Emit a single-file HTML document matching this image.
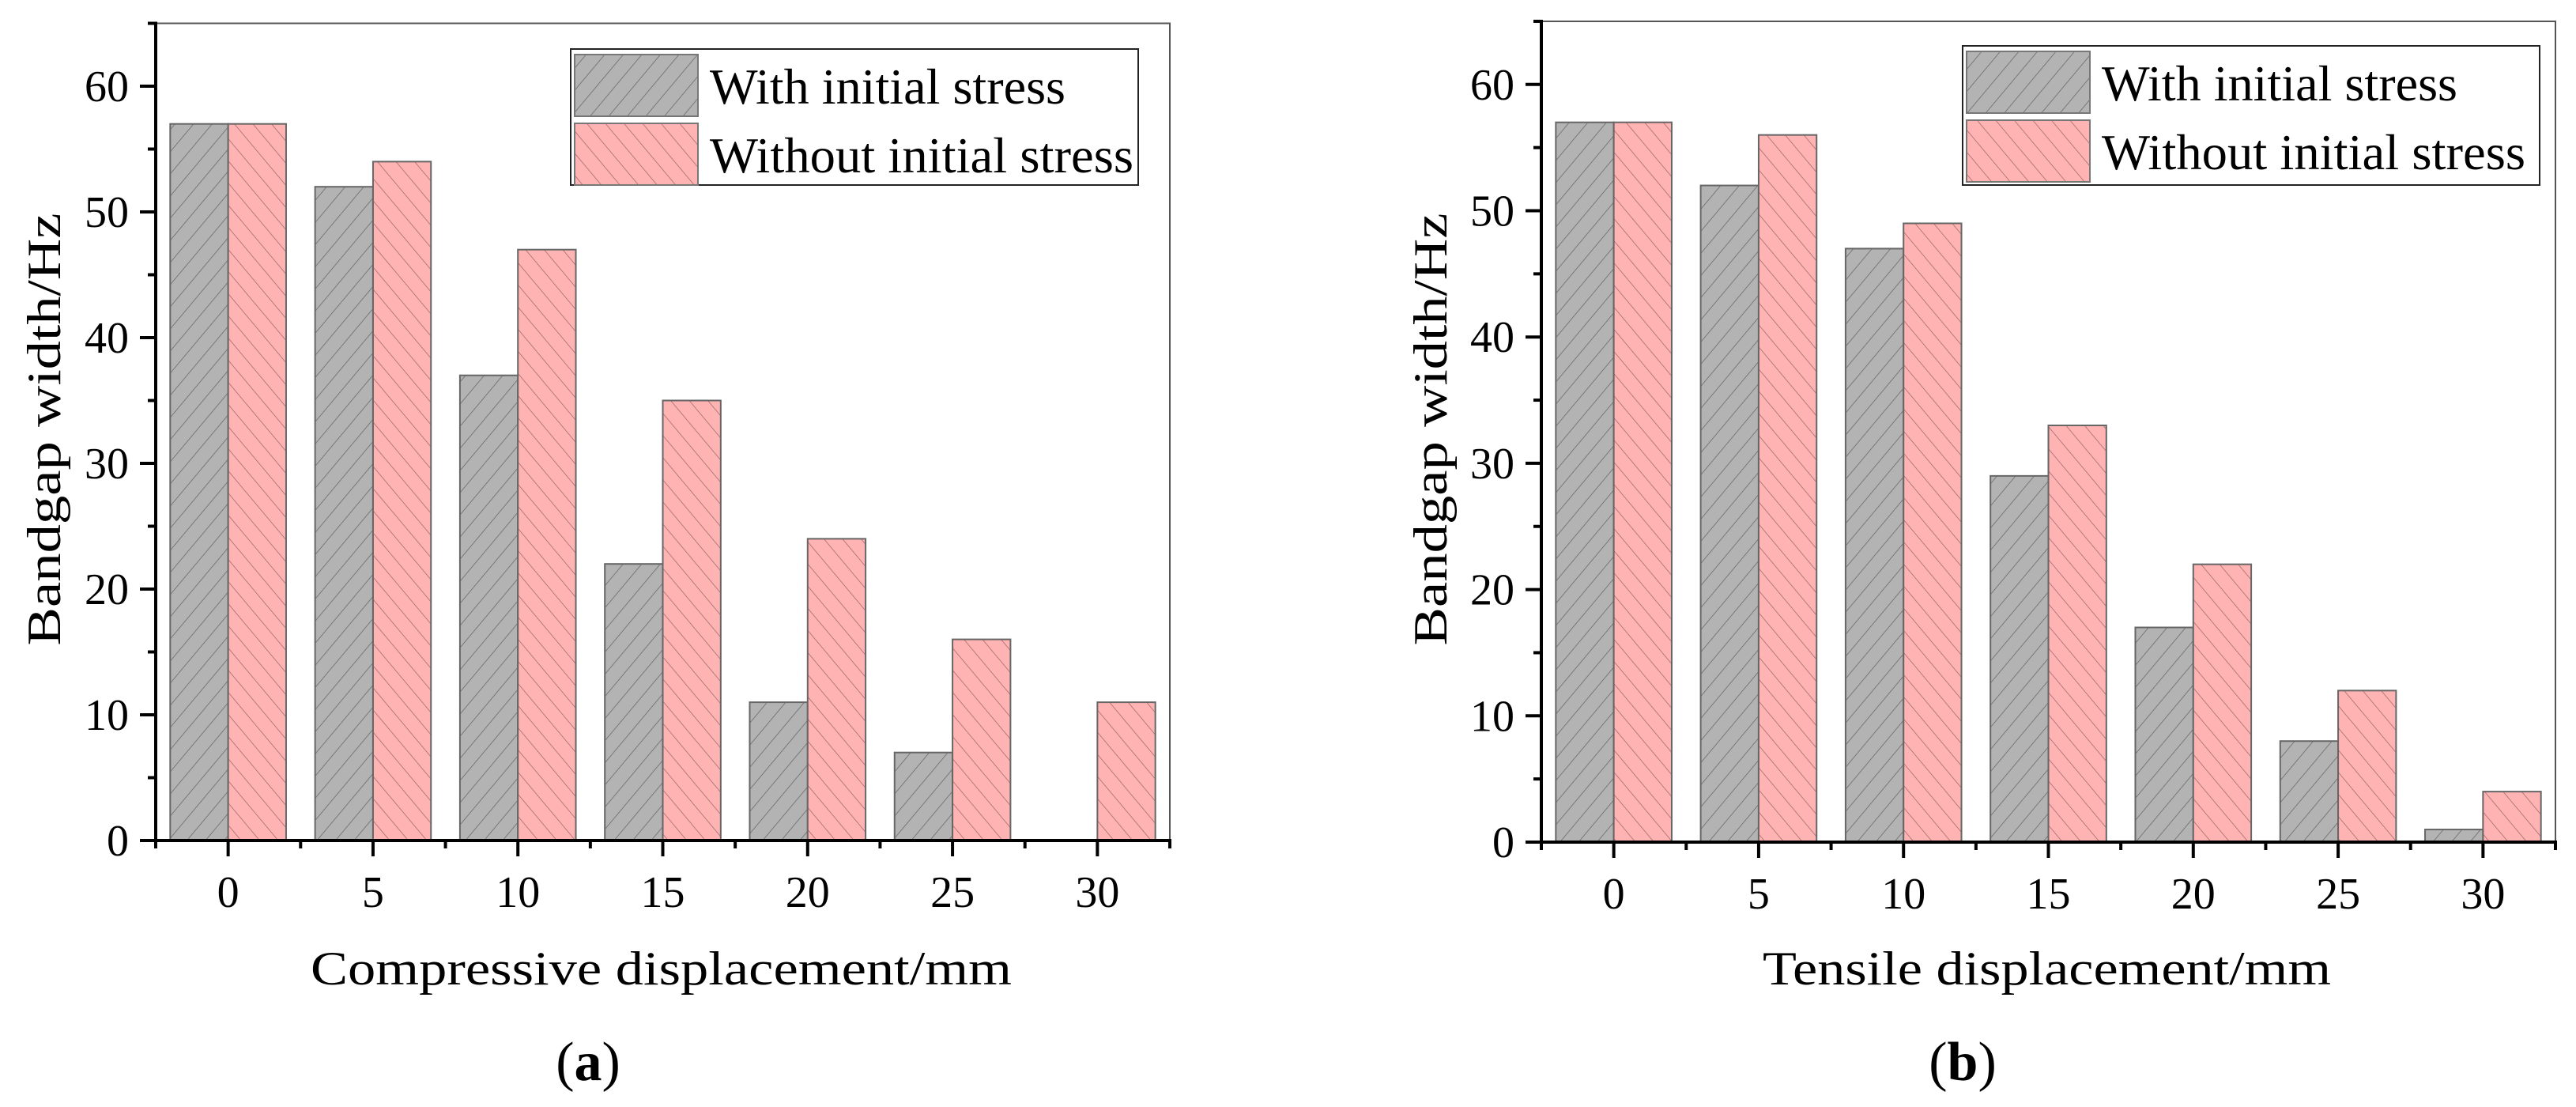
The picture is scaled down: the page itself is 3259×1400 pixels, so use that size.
<!DOCTYPE html>
<html><head><meta charset="utf-8"><style>
html,body{margin:0;padding:0;background:#fff;}
svg{display:block;font-family:"Liberation Serif",serif;}
</style></head>
<body>
<svg id="chart" width="3259" height="1400" viewBox="0 0 3259 1400" xmlns="http://www.w3.org/2000/svg">
<defs>
<pattern id="hatchGray" patternUnits="userSpaceOnUse" width="18" height="18" patternTransform="rotate(40)">
<rect width="18" height="18" fill="#b3b3b3"/>
<line x1="0" y1="0" x2="0" y2="18" stroke="#606060" stroke-width="1.4"/>
</pattern>
<pattern id="hatchRed" patternUnits="userSpaceOnUse" width="18" height="18" patternTransform="rotate(-40)">
<rect width="18" height="18" fill="#ffb3b3"/>
<line x1="0" y1="0" x2="0" y2="18" stroke="#946464" stroke-width="1.4"/>
</pattern>
</defs>
</svg>
<script>
const categories = ["0","5","10","15","20","25","30"];
const yTicks = [0,10,20,30,40,50,60];
const seriesNames = ["With initial stress","Without initial stress"];
const compWith = [57,52,37,22,11,7,0];
const compWithout = [57,54,47,35,24,16,11];
const tensWith = [57,52,47,29,17,8,1];
const tensWithout = [57,56,49,33,22,12,4];

const NS = "http://www.w3.org/2000/svg";
const svg = document.getElementById('chart');
function mk(tag, attrs, parent, text){
  const e = document.createElementNS(NS, tag);
  for (const k in attrs) e.setAttribute(k, attrs[k]);
  if (text !== undefined) e.textContent = text;
  (parent || svg).appendChild(e);
  return e;
}

function panel(cfg){
  const g = mk('g', {});
  
  
  const x0 = cfg.left, x1 = cfg.right, yBase = cfg.base, yMaxV = 65;
  const ppu = cfg.ppu;
  const yS = v => yBase - v * ppu;
  const step = (x1 - x0) / categories.length;
  const xS = i => x0 + step * (i + 0.5);
  const bw = step * 0.4;
  const yTop = yS(yMaxV);

  const fr = mk('path', {d:`M${x0} ${yTop} H${x1} V${yBase}`, fill:'none', stroke:'#555', 'stroke-width':2}, g);
  
  

  categories.forEach((c, i) => {
    const vals = [cfg.a[i], cfg.b[i]];
    vals.forEach((v, s) => {
      const bx = s === 0 ? xS(i) - bw : xS(i);
      const r = mk('rect', {x: bx, y: yS(v), width: bw, height: Math.max(0, yBase - yS(v)),
        fill: s === 0 ? 'url(#hatchGray)' : 'url(#hatchRed)', stroke: '#666', 'stroke-width': 2}, g);
      
      
    });
  });

  const ya = mk('line', {x1:x0, y1:yTop-2, x2:x0, y2:yBase+2, stroke:'#000', 'stroke-width':4}, g);
  
  
  const xa = mk('line', {x1:x0-20, y1:yBase, x2:x1+2, y2:yBase, stroke:'#000', 'stroke-width':4}, g);
  
  

  for (let v = 0; v <= 65; v += 5) {
    const major = v % 10 === 0;
    mk('line', {x1:x0 - (major?20:10), y1:yS(v), x2:x0, y2:yS(v), stroke:'#000', 'stroke-width':4}, g);
  }
  yTicks.forEach(v => {
    const t = mk('text', {x: x0 - 34, y: yS(v) + 19, 'font-size': 56, 'text-anchor':'end'}, g, String(v));
    
    
  });
  categories.forEach((c, i) => {
    mk('line', {x1:xS(i), y1:yBase, x2:xS(i), y2:yBase+20, stroke:'#000', 'stroke-width':4}, g);
    mk('line', {x1:xS(i)-step/2, y1:yBase, x2:xS(i)-step/2, y2:yBase+10, stroke:'#000', 'stroke-width':4}, g);
    const t = mk('text', {x: xS(i), y: yBase + 84, 'font-size': 56, 'text-anchor':'middle'}, g, c);
    
    
  });
  mk('line', {x1:x1, y1:yBase, x2:x1, y2:yBase+10, stroke:'#000', 'stroke-width':4}, g);

  const xt = mk('text', {x: cfg.xtX, y: 1245, 'font-size': 60, textLength: cfg.xtW, lengthAdjust:'spacingAndGlyphs'}, g, cfg.xTitle);
  
  
  const yt = mk('text', {x: 0, y: 0, 'font-size': 60, 'text-anchor':'middle', textLength: 547, lengthAdjust:'spacingAndGlyphs',
    transform:`translate(${cfg.ytX},543) rotate(-90)`}, g, 'Bandgap width/Hz');
  
  
  const lab = mk('text', {x: cfg.labX, y: 1366, 'font-size': 70, 'text-anchor':'middle'}, g);
  
  
  mk('tspan', {}, lab, '(');
  mk('tspan', {'font-weight':'bold'}, lab, cfg.letter);
  mk('tspan', {}, lab, ')');

  const lg = mk('g', {}, g);
  
  
  const L = cfg.leg;
  mk('rect', {x:L.x, y:L.y, width:L.w, height:L.h, fill:'#fff', stroke:'#222', 'stroke-width':2}, lg);
  seriesNames.forEach((n, s) => {
    const e = mk('g', {}, lg);
    
    
    const sy = L.y + 7 + s * 87;
    mk('rect', {x:L.x+5, y:sy, width:156, height:78, fill: s===0?'url(#hatchGray)':'url(#hatchRed)', stroke:'#777', 'stroke-width':2}, e);
    const tw = s === 0 ? 450 : 536;
    mk('text', {x:L.x+176, y:sy+62, 'font-size':64, textLength: tw, lengthAdjust:'spacingAndGlyphs'}, e, n);
  });
}

panel({name:'panel-a-compressive', left:197, right:1480, base:1063, ppu:15.9, a:compWith, b:compWithout,
  xTitle:'Compressive displacement/mm', xtX:393, xtW:887, ytX:76, labX:744, letter:'a',
  leg:{x:722, y:62, w:718, h:172}});
panel({name:'panel-b-tensile', left:1950, right:3233, base:1065, ppu:15.97, a:tensWith, b:tensWithout,
  xTitle:'Tensile displacement/mm', xtX:2230, xtW:719, ytX:1830, labX:2483, letter:'b',
  leg:{x:2483, y:58, w:730, h:176}});
</script>
</body></html>
